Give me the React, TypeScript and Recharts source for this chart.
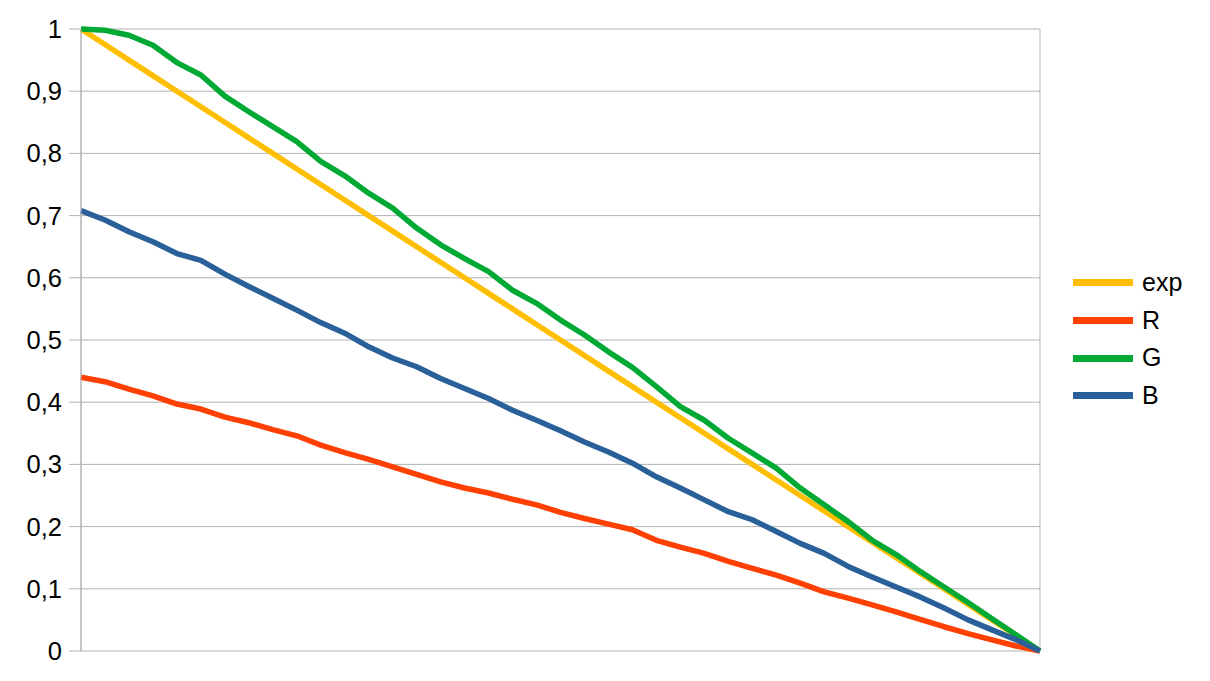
import React from 'react';
import { LineChart, Line, XAxis, YAxis, CartesianGrid, Legend } from 'recharts';

const steps: number[] = [0,1,2,3,4,5,6,7,8,9,10,11,12,13,14,15,16,17,18,19,20,21,22,23,24,25,26,27,28,29,30,31,32,33,34,35,36,37,38,39,40];

const expValues: number[] = [1, 0.975, 0.95, 0.925, 0.9, 0.875, 0.85, 0.825, 0.8, 0.775, 0.75, 0.725, 0.7, 0.675, 0.65, 0.625, 0.6, 0.575, 0.55, 0.525, 0.5, 0.475, 0.45, 0.425, 0.4, 0.375, 0.35, 0.325, 0.3, 0.275, 0.25, 0.225, 0.2, 0.175, 0.15, 0.125, 0.1, 0.075, 0.05, 0.025, 0];

const rValues: number[] = [0.440, 0.433, 0.421, 0.410, 0.397, 0.389, 0.376, 0.367, 0.356, 0.346, 0.331, 0.319, 0.308, 0.296, 0.284, 0.272, 0.262, 0.254, 0.244, 0.235, 0.223, 0.213, 0.204, 0.195, 0.178, 0.167, 0.157, 0.144, 0.133, 0.122, 0.109, 0.095, 0.085, 0.074, 0.063, 0.051, 0.039, 0.028, 0.018, 0.008, 0];

const gValues: number[] = [1.0, 0.998, 0.990, 0.974, 0.946, 0.926, 0.892, 0.867, 0.843, 0.819, 0.787, 0.764, 0.736, 0.712, 0.680, 0.653, 0.631, 0.610, 0.580, 0.559, 0.532, 0.508, 0.481, 0.456, 0.425, 0.393, 0.371, 0.342, 0.318, 0.294, 0.262, 0.235, 0.208, 0.178, 0.155, 0.128, 0.103, 0.078, 0.052, 0.026, 0];

const bValues: number[] = [0.708, 0.693, 0.674, 0.658, 0.639, 0.628, 0.606, 0.586, 0.567, 0.548, 0.528, 0.511, 0.489, 0.471, 0.457, 0.438, 0.422, 0.406, 0.387, 0.371, 0.354, 0.336, 0.320, 0.302, 0.280, 0.262, 0.243, 0.224, 0.211, 0.192, 0.173, 0.157, 0.136, 0.119, 0.103, 0.087, 0.069, 0.050, 0.034, 0.018, 0];

const yTicks: number[] = [0, 0.1, 0.2, 0.3, 0.4, 0.5, 0.6, 0.7, 0.8, 0.9, 1];
const yTickLabels: string[] = ['0', '0,1', '0,2', '0,3', '0,4', '0,5', '0,6', '0,7', '0,8', '0,9', '1'];

const seriesNames: string[] = ['exp', 'R', 'G', 'B'];
const seriesColors: string[] = ['#ffbf00', '#ff4000', '#00a933', '#2a6099'];

const data = steps.map((s, i) => ({
  x: s,
  exp: expValues[i],
  R: rValues[i],
  G: gValues[i],
  B: bValues[i],
}));

const FONT = '"Liberation Sans", Arial, sans-serif';

const renderLegend = (props: any) => {
  const payload = [...(props.payload || [])].sort(
    (a: any, b: any) => seriesNames.indexOf(a.value) - seriesNames.indexOf(b.value)
  );
  return (
    <div style={{ fontFamily: FONT, fontSize: 25, color: '#000' }}>
      {payload.map((entry: any) => (
        <div key={entry.value} style={{ display: 'flex', alignItems: 'center', height: 37.7 }}>
          <div style={{ width: 60, height: 7, background: entry.color, marginRight: 9 }} />
          <span style={{ lineHeight: '37.7px' }}>{entry.value}</span>
        </div>
      ))}
    </div>
  );
};

export default function App() {
  const idx = (v: number) => yTicks.findIndex((t) => Math.abs(t - v) < 1e-9);
  return (
    <div style={{ position: 'absolute', left: 0, top: 0, width: 1210, height: 681, background: '#fff' }}>
      <LineChart width={1210} height={681} data={data} margin={{ top: 29, right: 170, bottom: 0, left: 0 }}>
        <CartesianGrid stroke="#b3b3b3" strokeWidth={1} vertical={true} horizontal={true} />
        <XAxis
          dataKey="x"
          type="number"
          domain={[0, 40]}
          ticks={[0, 40]}
          height={30}
          axisLine={false}
          tickLine={false}
          tick={false}
        />
        <YAxis
          type="number"
          domain={[0, 1]}
          ticks={yTicks}
          width={81}
          axisLine={{ stroke: '#b3b3b3', strokeWidth: 1 }}
          tickLine={{ stroke: '#b3b3b3', strokeWidth: 1 }}
          tickSize={12}
          tickMargin={7}
          tick={{ fill: '#000', fontSize: 25.5, fontFamily: FONT }}
          tickFormatter={(v: number) => yTickLabels[idx(v)] ?? String(v)}
          interval={0}
        />
        <Legend
          layout="horizontal"
          verticalAlign="middle"
          align="center"
          content={renderLegend}
          wrapperStyle={{ left: 1073, top: 264, width: 130, height: 160 }}
        />
        {seriesNames.map((name, i) => (
          <Line
            key={name}
            type="linear"
            dataKey={name}
            name={name}
            stroke={seriesColors[i]}
            strokeWidth={5.5}
            dot={false}
            activeDot={false}
            strokeLinejoin="round"
            isAnimationActive={false}
          />
        ))}
      </LineChart>
    </div>
  );
}
